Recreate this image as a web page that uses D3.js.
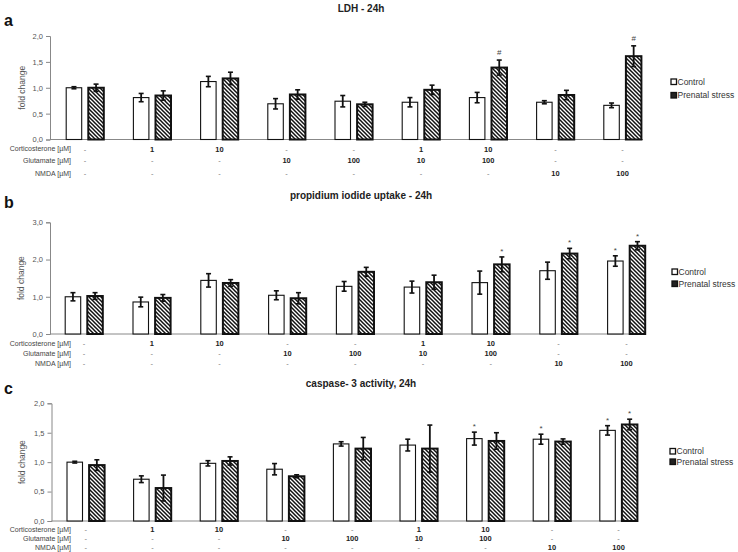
<!DOCTYPE html>
<html><head><meta charset="utf-8">
<script src="https://cdn.jsdelivr.net/npm/d3@7"></script>
<style>
html,body{margin:0;padding:0;background:#fff;}
svg{display:block;font-family:"Liberation Sans",Arial,sans-serif;}
</style></head>
<body><svg id="chart" width="738" height="552"></svg>
<script>
// ---------- DATA ----------
const categories = ["vehicle","Cort 1","Cort 10","Glu 10","Glu 100","Cort 1 + Glu 10","Cort 10 + Glu 100","NMDA 10","NMDA 100"];
const corticosteroneLabels = ["-","1","10","-","-","1","10","-","-"];
const glutamateLabels      = ["-","-","-","10","100","10","100","-","-"];
const nmdaLabels           = ["-","-","-","-","-","-","-","10","100"];
const rowLabels = ["Corticosterone [µM]","Glutamate [µM]","NMDA [µM]"];
const seriesNames = ["Control","Prenatal stress"];

const ldhControl    = [1.00,0.81,1.12,0.69,0.74,0.72,0.81,0.72,0.66];
const ldhControlErr = [0.02,0.08,0.10,0.10,0.11,0.09,0.10,0.03,0.045];
const ldhStress     = [1.00,0.85,1.18,0.87,0.68,0.96,1.39,0.86,1.61];
const ldhStressErr  = [0.07,0.09,0.12,0.09,0.04,0.09,0.145,0.09,0.20];
const ldhMarks = [{cat:6,series:1,text:"#"},{cat:8,series:1,text:"#"}];
const ldhTicks = [0,0.5,1,1.5,2];

const piControl    = [1.00,0.86,1.44,1.04,1.28,1.26,1.38,1.70,1.96];
const piControlErr = [0.11,0.13,0.18,0.12,0.13,0.16,0.31,0.23,0.14];
const piStress     = [1.02,0.97,1.37,0.96,1.67,1.39,1.87,2.16,2.37];
const piStressErr  = [0.09,0.09,0.09,0.15,0.12,0.19,0.20,0.14,0.11];
const piMarks = [{cat:6,series:1,text:"*"},{cat:7,series:1,text:"*"},{cat:8,series:0,text:"*"},{cat:8,series:1,text:"*"}];
const piTicks = [0,1,2,3];

const casControl    = [1.00,0.71,0.98,0.88,1.31,1.29,1.40,1.39,1.54];
const casControlErr = [0.015,0.057,0.045,0.096,0.037,0.10,0.11,0.085,0.08];
const casStress     = [0.95,0.56,1.02,0.76,1.23,1.23,1.36,1.35,1.64];
const casStressErr  = [0.09,0.22,0.07,0.025,0.19,0.40,0.14,0.045,0.09];
const casMarks = [{cat:6,series:0,text:"*"},{cat:7,series:0,text:"*"},{cat:8,series:0,text:"*"},{cat:8,series:1,text:"*"}];
const casTicks = [0,0.5,1,1.5,2];

// ---------- DRAW ----------
const svg = d3.select("#chart");
const defs = svg.append("defs");
const pat = defs.append("pattern").attr("id","hatch").attr("patternUnits","userSpaceOnUse")
  .attr("width",4).attr("height",4);
pat.append("rect").attr("width",4).attr("height",4).attr("fill","#fff");
pat.append("path").attr("d","M-1,-1L5,5M3,-1L5,1M-1,3L1,5").attr("stroke","#111").attr("stroke-width",1.5);

const fmt = v => d3.format(".1f")(v).replace(".", ",");

const panels = [
  {letter:"a", title:"LDH - 24h", ctrl:ldhControl, ctrlErr:ldhControlErr, st:ldhStress, stErr:ldhStressErr, marks:ldhMarks, ticks:ldhTicks,
   yTop:36, y0:139.5, axX:50, axEnd:643, c0:85, step:67.2, rows:[149,160.2,173.3], titleY:12, letterY:26, legY:[82,95.5], legX:671, labX:22},
  {letter:"b", title:"propidium iodide uptake - 24h", ctrl:piControl, ctrlErr:piControlErr, st:piStress, stErr:piStressErr, marks:piMarks, ticks:piTicks,
   yTop:222.3, y0:334, axX:50, axEnd:646, c0:84, step:67.8, rows:[343.5,353.8,363.3], titleY:199, letterY:207.5, legY:[272,284], legX:672, labX:21},
  {letter:"c", title:"caspase- 3 activity, 24h", ctrl:casControl, ctrlErr:casControlErr, st:casStress, stErr:casStressErr, marks:casMarks, ticks:casTicks,
   yTop:403.3, y0:521, axX:51.5, axEnd:637, c0:85.8, step:66.6, rows:[529.5,538.5,547.5], titleY:387, letterY:393.5, legY:[451.5,462], legX:670, labX:22}
];

panels.forEach(p => {
  const g = svg.append("g");
  const y = d3.scaleLinear().domain([0, d3.max(p.ticks)]).range([p.y0, p.yTop]);
  const x0 = p.c0 - p.step/2;
  const x = d3.scaleBand().domain(categories).range([x0, x0 + p.step*categories.length]);
  const half = 18.8;
  const xs = d3.scaleBand().domain(seriesNames).range([x.bandwidth()/2 - half, x.bandwidth()/2 + half]).paddingInner(0.2986);

  // letter + title
  g.append("text").attr("x",4).attr("y",p.letterY).attr("font-size",16).attr("font-weight","bold").attr("fill","#111").text(p.letter);
  g.append("text").attr("x",361).attr("y",p.titleY).attr("text-anchor","middle").attr("font-size",10).attr("font-weight","bold").attr("fill","#222").text(p.title);

  // y axis
  const yAxis = d3.axisLeft(y).tickValues(p.ticks).tickFormat(fmt).tickSize(4).tickPadding(3);
  const ya = g.append("g").attr("transform",`translate(${p.axX},0)`).call(yAxis);
  ya.select(".domain").attr("stroke","#888");
  ya.selectAll(".tick line").attr("stroke","#888");
  ya.selectAll(".tick text").attr("fill","#555").attr("font-size",7.5).attr("font-family","Liberation Sans, Arial, sans-serif");
  // y label
  g.append("text").attr("transform",`translate(${p.labX},${(p.y0+p.yTop)/2}) rotate(-90)`).attr("text-anchor","middle")
    .attr("dy","0.35em").attr("font-size",8.5).attr("fill","#555").text("fold change");
  // x axis baseline
  g.append("line").attr("x1",p.axX).attr("x2",p.axEnd).attr("y1",p.y0).attr("y2",p.y0).attr("stroke","#888").attr("stroke-width",1);

  // bars
  const rows = categories.map((c,i)=>[
    {cat:c, i, s:0, v:p.ctrl[i], e:p.ctrlErr[i]},
    {cat:c, i, s:1, v:p.st[i], e:p.stErr[i]}
  ]).flat();
  const bx = d => x(d.cat) + xs(seriesNames[d.s]);
  g.selectAll("rect.bar").data(rows).join("rect").attr("class","bar")
    .attr("x", d => bx(d)).attr("width", xs.bandwidth())
    .attr("y", d => y(d.v)).attr("height", d => p.y0 - y(d.v))
    .attr("fill", d => d.s ? "url(#hatch)" : "#fff")
    .attr("stroke","#111").attr("stroke-width", d => d.s ? 2 : 1.1);
  // error bars
  const eb = g.selectAll("g.err").data(rows).join("g").attr("class","err");
  const cx = d => bx(d) + xs.bandwidth()/2;
  eb.append("line").attr("x1",cx).attr("x2",cx).attr("y1",d=>y(d.v+d.e)).attr("y2",d=>y(d.v-d.e)).attr("stroke","#111").attr("stroke-width",1.8);
  eb.append("line").attr("x1",d=>cx(d)-2.5).attr("x2",d=>cx(d)+2.5).attr("y1",d=>y(d.v+d.e)).attr("y2",d=>y(d.v+d.e)).attr("stroke","#111").attr("stroke-width",1.6);
  eb.append("line").attr("x1",d=>cx(d)-2.5).attr("x2",d=>cx(d)+2.5).attr("y1",d=>y(d.v-d.e)).attr("y2",d=>y(d.v-d.e)).attr("stroke","#111").attr("stroke-width",1.6);

  // significance marks
  g.selectAll("text.mark").data(p.marks).join("text").attr("class","mark")
    .attr("x", m => x(categories[m.cat]) + xs(seriesNames[m.series]) + xs.bandwidth()/2)
    .attr("y", m => {
      const v = m.series ? p.st[m.cat] + p.stErr[m.cat] : p.ctrl[m.cat] + p.ctrlErr[m.cat];
      return y(v) - (m.text === "#" ? 5 : 3);
    })
    .attr("text-anchor","middle").attr("font-size",8).attr("fill","#444").text(m => m.text);

  // condition table
  const tables = [corticosteroneLabels, glutamateLabels, nmdaLabels];
  tables.forEach((arr, r) => {
    g.append("text").attr("x",71).attr("y",p.rows[r]).attr("dy","0.35em").attr("text-anchor","end")
      .attr("font-size",7).attr("fill","#444").text(rowLabels[r]);
    g.selectAll(null).data(arr).join("text")
      .attr("x",(d,i)=> x(categories[i]) + x.bandwidth()/2).attr("y",p.rows[r]).attr("dy","0.35em")
      .attr("text-anchor","middle").attr("font-size",7.5)
      .attr("font-weight", d => d === "-" ? "normal" : "bold")
      .attr("fill", d => d === "-" ? "#777" : "#222").text(d => d);
  });

  // legend
  seriesNames.forEach((s, k) => {
    g.append("rect").attr("x",p.legX).attr("y",p.legY[k]-3).attr("width",5.5).attr("height",5.5)
      .attr("fill", k ? "#222" : "#fff").attr("stroke","#111").attr("stroke-width",1.3);
    g.append("text").attr("x",p.legX+6.5).attr("y",p.legY[k]).attr("dy","0.35em").attr("font-size",8.5).attr("fill","#333").text(s);
  });
});
</script></body></html>
